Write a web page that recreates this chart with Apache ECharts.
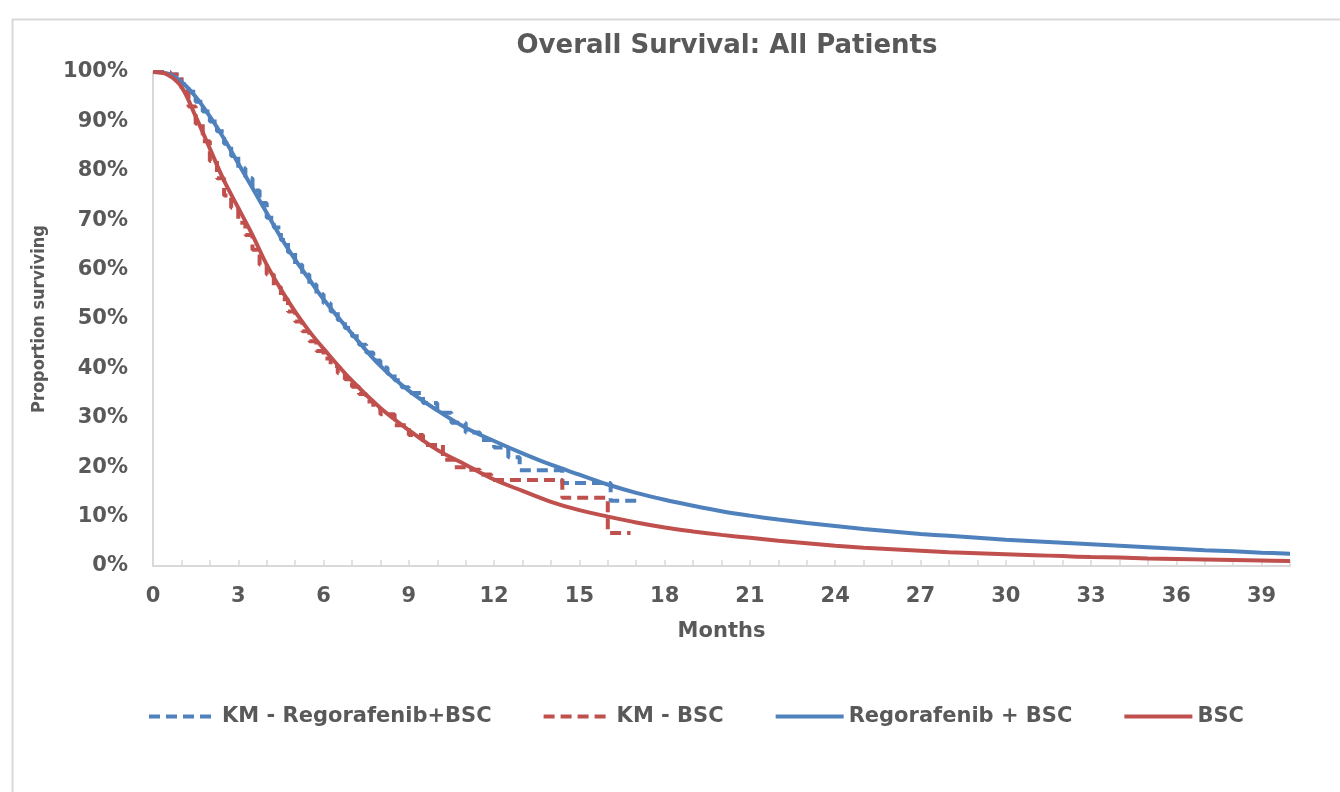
<!DOCTYPE html>
<html>
<head>
<meta charset="utf-8">
<script src="https://cdn.jsdelivr.net/npm/echarts@6/dist/echarts.min.js"></script>
<style>html,body{margin:0;padding:0;background:#fff}#c{width:1340px;height:792px}</style>
</head>
<body>
<div id="c"></div>
<script>
const titleText = 'Overall Survival: All Patients';
const xName = 'Months';
const yName = 'Proportion surviving';
const seriesNames = ['KM - Regorafenib+BSC', 'KM - BSC', 'Regorafenib + BSC', 'BSC'];

// Kaplan-Meier step data [month, % surviving]
const kmRegorafenib = [[0,100],[0.6,99.5],[1,97.5],[1.25,96],[1.5,94],[1.75,92],[2,90],[2.25,88],[2.5,85.5],[2.75,83],[3,80.5],[3.25,78.5],[3.5,76],[3.75,73.5],[4,70.5],[4.25,68.5],[4.5,66],[4.75,63.5],[5,61],[5.25,59],[5.5,57],[5.75,55],[6,53.2],[6.25,51.5],[6.5,49.8],[6.75,48.2],[7,46.5],[7.25,44.8],[7.5,43.2],[7.75,41.6],[8,40.2],[8.25,38.9],[8.5,37.6],[8.75,36.2],[9,35],[9.5,33],[10,31],[10.5,29],[11,27],[11.5,25.5],[12,24],[12.5,22],[12.9,19.4],[14.4,16.8],[16.1,13.2],[17.0,13.2]];
const kmBSC = [[0,100],[0.6,99.5],[1,96],[1.25,93],[1.5,89.5],[1.75,86],[2,82],[2.25,78.5],[2.5,75],[2.75,72.5],[3,69.5],[3.25,67],[3.5,64],[3.75,61],[4,59],[4.25,56.5],[4.5,54],[4.75,51.5],[5,49.5],[5.25,47.5],[5.5,45.5],[5.75,43.5],[6,42],[6.25,40.5],[6.5,39],[6.75,37.8],[7,36.3],[7.25,34.8],[7.5,33.3],[7.75,32],[8,30.7],[8.5,28.5],[9,26.5],[9.5,24.5],[10.2,21.5],[10.6,20],[11,19.5],[11.5,18.5],[11.9,17.4],[14.4,13.8],[16.0,6.7],[16.8,6.7]];

// Modelled curves
const months = [0,0.5,1,1.5,2,2.5,3,3.5,4,4.5,5,5.5,6,7,8,9,10,11,12,13,14,15,16,17,18,19,20,21,22,23,24,25,26,27,28,29,30,31,32,33,34,35,36,37,38,39,40];
const regorafenibFit = [100,99.7,98,95,91,86.5,81.5,76.5,71.5,66.5,62,58,54,47,40.5,35.5,31.5,28,25.3,22.8,20.5,18.5,16.5,14.8,13.4,12.2,11.1,10.2,9.4,8.7,8.1,7.5,7,6.5,6.1,5.7,5.3,5,4.7,4.4,4.1,3.8,3.5,3.2,3.0,2.7,2.5];
const bscFit = [100,99.5,97,91,84.5,78,72.5,67,61,56,51.5,47.5,44,37.5,32,27.5,23.5,20.5,17.5,15.2,13,11.3,10,8.8,7.8,7,6.3,5.7,5.1,4.6,4.1,3.7,3.4,3.1,2.8,2.6,2.4,2.2,2.0,1.8,1.7,1.5,1.4,1.3,1.2,1.1,1.0];

const BLUE = '#4F81BD', RED = '#C0504D', TXT = '#595959', AX = '#d9d9d9';
const FONT = '"DejaVu Sans", "Open Sans", sans-serif';
const FONT_COND = '"DejaVu Sans Condensed", "DejaVu Sans", sans-serif';

const zip = (xs, ys) => xs.map((x, i) => [x, ys[i]]);

const chart = echarts.init(document.getElementById('c'));
chart.setOption({
  animation: false,
  backgroundColor: '#fff',
  title: {
    text: titleText, left: 722, top: 28, textAlign: 'center',
    textStyle: { fontFamily: FONT, fontSize: 26, fontWeight: 'bold', color: TXT }
  },
  graphic: [{
    type: 'rect', left: 10, top: 17, shape: { width: 1400, height: 900 },
    style: { fill: 'none', stroke: AX, lineWidth: 2 }, silent: true, z: -1
  }],
  legend: {
    left: 142, top: 701, itemWidth: 68, itemHeight: 3, itemGap: 50,
    itemStyle: { opacity: 0 },
    lineStyle: { width: 4 },
    textStyle: { fontFamily: FONT, fontSize: 21, fontWeight: 'bold', color: TXT },
    data: seriesNames
  },
  grid: { left: 153, right: 50, top: 72, bottom: 226 },
  xAxis: {
    type: 'value', min: 0, max: 40, interval: 3,
    name: xName, nameLocation: 'middle', nameGap: 55,
    nameTextStyle: { fontFamily: FONT, fontSize: 21, fontWeight: 'bold', color: TXT },
    axisLine: { lineStyle: { color: AX, width: 2 } },
    axisTick: { show: true, inside: true, length: 6, lineStyle: { color: AX, width: 1.5 } },
    minorTick: { show: true, splitNumber: 3, length: 6, lineStyle: { color: AX, width: 1.5 } },
    splitLine: { show: false },
    axisLabel: { showMaxLabel: false, margin: 20, fontFamily: FONT, fontSize: 21, fontWeight: 'bold', color: TXT,
      formatter: v => v === 40 ? '' : String(v) }
  },
  yAxis: {
    type: 'value', min: 0, max: 100, interval: 10,
    name: yName, nameLocation: 'middle', nameGap: 105, nameRotate: 90,
    nameTextStyle: { fontFamily: FONT_COND, fontSize: 18, fontWeight: 'bold', color: TXT },
    axisLine: { show: true, lineStyle: { color: AX, width: 2 } },
    axisTick: { show: false },
    splitLine: { show: false },
    axisLabel: { margin: 25, fontFamily: FONT, fontSize: 21, fontWeight: 'bold', color: TXT, formatter: v => v + '%' }
  },
  series: [
    { name: seriesNames[0], type: 'line', step: 'end', symbol: 'none', data: kmRegorafenib,
      lineStyle: { color: BLUE, width: 4, type: [11, 6] }, itemStyle: { color: BLUE } },
    { name: seriesNames[1], type: 'line', step: 'end', symbol: 'none', data: kmBSC,
      lineStyle: { color: RED, width: 4, type: [11, 6] }, itemStyle: { color: RED } },
    { name: seriesNames[2], type: 'line', smooth: 0.35, symbol: 'none', data: zip(months, regorafenibFit),
      lineStyle: { color: BLUE, width: 4 }, itemStyle: { color: BLUE } },
    { name: seriesNames[3], type: 'line', smooth: 0.35, symbol: 'none', data: zip(months, bscFit),
      lineStyle: { color: RED, width: 4 }, itemStyle: { color: RED } }
  ]
});
</script>
</body>
</html>
